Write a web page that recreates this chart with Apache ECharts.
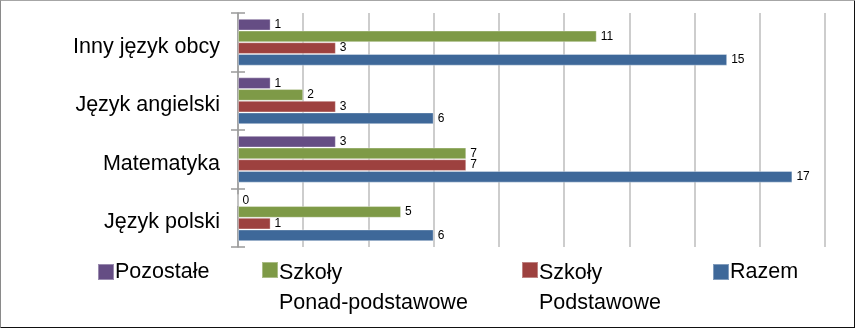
<!DOCTYPE html>
<html>
<head>
<meta charset="utf-8">
<script src="https://cdn.jsdelivr.net/npm/echarts@6/dist/echarts.min.js"></script>
<style>
html,body{margin:0;padding:0;background:#fff;}
#frame{position:absolute;left:0;top:0;width:853px;height:326px;border-top:1px solid #a6a6a6;border-left:1px solid #8a8a8a;border-right:2px solid #111;border-bottom:2px solid #111;}
#chart{position:absolute;left:0;top:0;width:855px;height:328px;}
</style>
</head>
<body>
<div id="frame"></div>
<div id="chart"></div>
<script>
const categories = ['Język polski', 'Matematyka', 'Język angielski', 'Inny język obcy'];
const seriesNames = ['Pozostałe', 'Szkoły Ponad-podstawowe', 'Szkoły Podstawowe', 'Razem'];
const legendLabels = ['Pozostałe', 'Szkoły\nPonad-podstawowe', 'Szkoły\nPodstawowe', 'Razem'];
const pozostale = [0, 3, 1, 1];
const ponadPodstawowe = [5, 7, 2, 11];
const podstawowe = [1, 7, 3, 3];
const razem = [6, 17, 6, 15];
const colors = ['#654D84', '#7E9A47', '#9D413F', '#3E6899'];
const values = [pozostale, ponadPodstawowe, podstawowe, razem];
const legendLeft = [97, 261, 521, 712];

const chart = echarts.init(document.getElementById('chart'));
const font = 'Liberation Sans, Arial, sans-serif';
const series = seriesNames.map((n, i) => ({
  name: n,
  type: 'bar',
  data: values[i],
  barGap: '0%',
  barCategoryGap: '20%',
  itemStyle: { color: colors[i], borderColor: 'rgba(255,255,255,0.35)', borderWidth: 1 },
  label: { show: true, position: 'right', distance: 4, color: '#000', fontSize: 12, fontFamily: font }
}));
const squareIcon = 'path://M0,0h0.01v0.01h-0.01z M0,4h16v16h-16z M0,60h0.01v-0.01h-0.01z';
const legends = seriesNames.map((n, i) => {
  const twoLines = legendLabels[i].indexOf('\n') >= 0;
  return {
    data: [n],
    left: legendLeft[i],
    top: 257,
    padding: 0,
    itemWidth: 16,
    itemHeight: twoLines ? 60 : 16,
    icon: twoLines ? squareIcon : 'rect',
    selectedMode: false,
    formatter: () => legendLabels[i],
    textStyle: {
      fontSize: 21.5, fontFamily: font, color: '#000', lineHeight: 30,
      padding: [0, 0, 0, -4]
    }
  };
});
chart.setOption({
  animation: false,
  color: colors,
  legend: legends,
  grid: { left: 238, right: 30, top: 13, bottom: 81 },
  xAxis: {
    type: 'value', min: 0, max: 18, interval: 2,
    axisLabel: { show: false }, axisLine: { show: false }, axisTick: { show: false },
    splitLine: { show: true, lineStyle: { color: '#BDBDBD', width: 1.5 } }
  },
  yAxis: [{
    type: 'category', data: categories, position: 'left',
    axisLine: { show: true, lineStyle: { color: '#9A9A9A', width: 1.5 } },
    axisTick: { show: true, length: 7, lineStyle: { color: '#9A9A9A', width: 1.5 } },
    axisLabel: { color: '#000', fontSize: 21.5, fontFamily: font, margin: 18, verticalAlign: 'top', lineHeight: 9 }
  }, {
    type: 'category', data: categories, position: 'left',
    axisLine: { show: false },
    axisTick: { show: true, inside: true, length: 7, lineStyle: { color: '#9A9A9A', width: 1.5 } },
    axisLabel: { show: false }
  }],
  series: series
});
</script>
</body>
</html>
